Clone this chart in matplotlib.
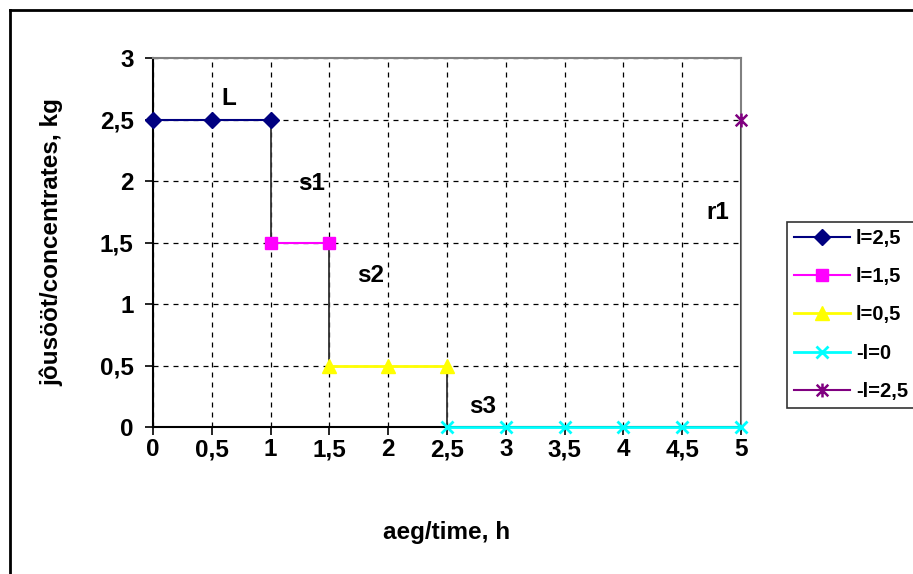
import matplotlib
matplotlib.use("Agg")
import matplotlib.pyplot as plt
from matplotlib.path import Path
from matplotlib.lines import Line2D

plt.rcParams['font.family'] = ['Liberation Sans', 'DejaVu Sans']
plt.rcParams['font.weight'] = 'bold'

# Data
x_l25 = [0, 0.5, 1]
y_l25 = [2.5, 2.5, 2.5]
x_l15 = [1, 1.5]
y_l15 = [1.5, 1.5]
x_l05 = [1.5, 2, 2.5]
y_l05 = [0.5, 0.5, 0.5]
x_m0 = [2.5, 3, 3.5, 4, 4.5, 5]
y_m0 = [0, 0, 0, 0, 0, 0]
x_m25 = [5]
y_m25 = [2.5]
labels = ['l=2,5', 'l=1,5', 'l=0,5', '-l=0', '-l=2,5']
x_ticks = [0, 0.5, 1, 1.5, 2, 2.5, 3, 3.5, 4, 4.5, 5]
x_ticklabels = ['0', '0,5', '1', '1,5', '2', '2,5', '3', '3,5', '4', '4,5', '5']
y_ticks = [0, 0.5, 1, 1.5, 2, 2.5, 3]
y_ticklabels = ['0', '0,5', '1', '1,5', '2', '2,5', '3']
annotations = [('L', 0.64, 2.67), ('s1', 1.35, 1.98), ('s2', 1.85, 1.23),
               ('s3', 2.8, 0.17), ('r1', 4.8, 1.74)]

fig = plt.figure(figsize=(9.13, 5.74), dpi=100)
ax = fig.add_axes([153/913, 1-427/574, (741-153)/913, (427-58)/574])

# outer frame
fig.add_artist(Line2D([10/913, 1], [1-10/574, 1-10/574], transform=fig.transFigure, color='black', lw=2))
fig.add_artist(Line2D([10/913, 10/913], [0, 1-10/574], transform=fig.transFigure, color='black', lw=2))

ax.set_xlim(0, 5)
ax.set_ylim(0, 3)
ax.set_xticks(x_ticks)
ax.set_xticklabels(x_ticklabels)
ax.set_yticks(y_ticks)
ax.set_yticklabels(y_ticklabels)
ax.tick_params(axis='both', direction='out', length=6, width=1.2, labelsize=17.5, colors='black')
ax.tick_params(axis='x', pad=2)
ax.tick_params(axis='y', pad=8)
for lab in ax.get_xticklabels() + ax.get_yticklabels():
    lab.set_fontweight('bold')

ax.grid(True, color='black', linestyle=(0, (4, 4)), linewidth=0.9)
ax.spines['top'].set_color('#808080')
ax.spines['right'].set_color('#808080')
ax.spines['top'].set_linewidth(1.5)
ax.spines['right'].set_linewidth(1.5)
ax.spines['left'].set_linewidth(1.5)
ax.spines['bottom'].set_linewidth(1.5)

# drop lines (from end of one series to start of next)
series = [(x_l25, y_l25), (x_l15, y_l15), (x_l05, y_l05), (x_m0, y_m0)]
for (xa, ya), (xb, yb) in zip(series[:-1], series[1:]):
    ax.plot([xa[-1], xb[0]], [ya[-1], yb[0]], color='#333333', lw=1.3, zorder=3)
ax.plot([x_m25[0], x_m25[0]], [y_m25[0], 0], color='#333333', lw=1.8, zorder=3)

# asterisk marker
ast = Path([(-1, -1), (1, 1), (-1, 1), (1, -1), (0, -1.2), (0, 1.2)],
           [Path.MOVETO, Path.LINETO, Path.MOVETO, Path.LINETO, Path.MOVETO, Path.LINETO])

ax.plot(x_l25, y_l25, color='#000080', lw=1.5, marker='D', ms=8.5, mec='#000080', mfc='#000080', label=labels[0], zorder=4, clip_on=False)
ax.plot(x_l15, y_l15, color='#FF00FF', lw=1.5, marker='s', ms=8, mec='#FF00FF', mfc='#FF00FF', label=labels[1], zorder=4, clip_on=False)
ax.plot(x_l05, y_l05, color='#FFFF00', lw=2, marker='^', ms=10.5, mec='#FFFF00', mfc='#FFFF00', label=labels[2], zorder=4, clip_on=False)
ax.plot(x_m0, y_m0, color='#00FFFF', lw=2, marker='x', ms=9, mew=2, mec='#00FFFF', label=labels[3], zorder=4, clip_on=False)
ax.plot(x_m25, y_m25, color='#800080', lw=1.5, marker=ast, ms=10, mew=1.8, mec='#800080', label=labels[4], zorder=4, clip_on=False)

for t, tx, ty in annotations:
    ax.text(tx, ty, t, fontsize=17.5, fontweight='bold', ha='center', va='center')

ax.set_xlabel('aeg/time, h', fontsize=17.5, fontweight='bold', labelpad=43)
ax.set_ylabel('jôusööt/concentrates, kg', fontsize=17.5, fontweight='bold', labelpad=26)

leg = fig.legend(loc='upper left', bbox_to_anchor=(787/913, 1-222/574),
                 frameon=True, fancybox=False, edgecolor='black',
                 prop={'size': 14.5, 'weight': 'bold'}, handlelength=2.79,
                 labelspacing=0.96, borderpad=0.33, handletextpad=0.3, borderaxespad=0)
leg.get_frame().set_linewidth(1.2)

fig.savefig('out.png', dpi=100)
